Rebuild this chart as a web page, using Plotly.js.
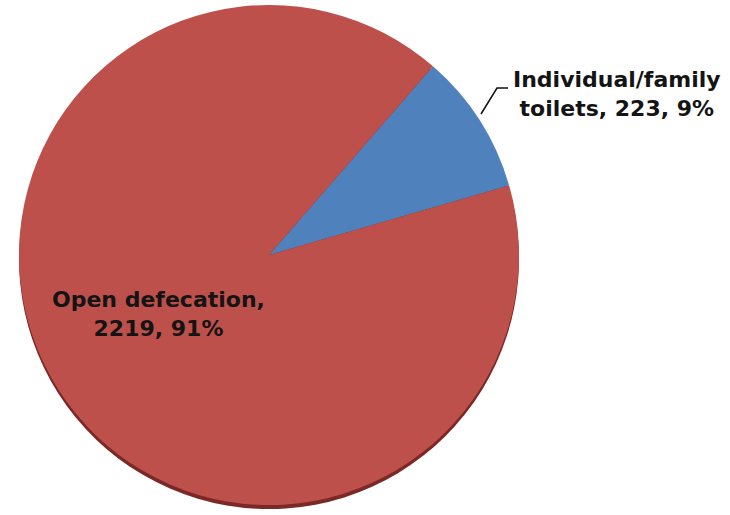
<!DOCTYPE html>
<html>
<head>
<meta charset="utf-8">
<script src="https://cdn.plot.ly/plotly-3.0.1.min.js"></script>
<style>html,body{margin:0;padding:0;background:#fff;}#chart{width:730px;height:515px;}</style>
</head>
<body>
<div id="chart"></div>
<script>
const categories = ["Individual/family toilets", "Open defecation"];
const labelLines = [["Individual/family", "toilets"], ["Open defecation,", ""]];
const values = [223, 2219];
const percents = ["9%", "91%"];
const colors = ["#4F81BD", "#BE504C"];

const W = 730, H = 515;
const px = x => x / W;
const py = y => 1 - y / H;

const dom = {x: [px(19), px(519)], y: [py(505), py(5)]};
const shadowDom = {x: [px(19), px(519)], y: [py(509), py(9)]};

const shadow = {
  type: 'pie', values: values, labels: categories,
  sort: false, direction: 'clockwise', rotation: 41,
  marker: {colors: ['#7B2826', '#7B2826'], line: {width: 0}},
  textinfo: 'none', hoverinfo: 'skip', showlegend: false,
  domain: shadowDom
};
const main = {
  type: 'pie', values: values, labels: categories,
  sort: false, direction: 'clockwise', rotation: 41,
  marker: {colors: colors, line: {width: 0}},
  textinfo: 'none', showlegend: false,
  domain: dom
};

function labelText(i) {
  const l = labelLines[i];
  if (i === 0) return '<b>' + l[0] + '<br>' + l[1] + ', ' + values[i] + ', ' + percents[i] + '</b>';
  return '<b>' + l[0] + '<br>' + values[i] + ', ' + percents[i] + '</b>';
}

const font = {family: 'DejaVu Sans, Verdana, sans-serif', size: 22, color: '#141414'};
const annotations = [
  {xref: 'paper', yref: 'paper', x: px(617), y: py(94), text: labelText(0), showarrow: false,
   font: font, xanchor: 'center', yanchor: 'middle', align: 'center'},
  {xref: 'paper', yref: 'paper', x: px(158), y: py(314), text: labelText(1), showarrow: false,
   font: font, xanchor: 'center', yanchor: 'middle', align: 'center'}
];
const shapes = [
  {type: 'path', xref: 'paper', yref: 'paper',
   path: 'M ' + px(508) + ' ' + py(88) + ' L ' + px(497) + ' ' + py(88) + ' L ' + px(481) + ' ' + py(114),
   line: {color: '#111', width: 1.5}}
];

Plotly.newPlot('chart', [shadow, main], {
  width: W, height: H,
  margin: {l: 0, r: 0, t: 0, b: 0},
  paper_bgcolor: '#fff',
  annotations: annotations,
  shapes: shapes
}, {displayModeBar: false, staticPlot: true});
</script>
</body>
</html>
